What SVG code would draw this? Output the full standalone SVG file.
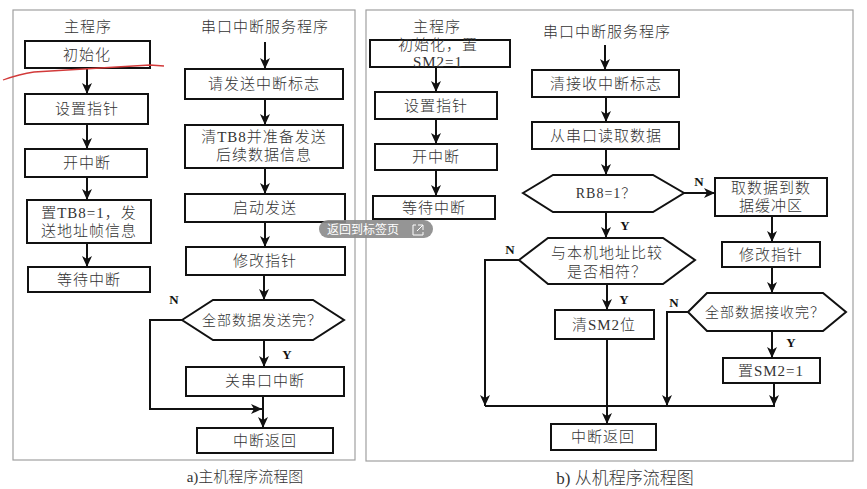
<svg xmlns="http://www.w3.org/2000/svg" width="867" height="489" viewBox="0 0 867 489">
<defs>
<marker id="ah" markerUnits="userSpaceOnUse" markerWidth="12" markerHeight="10" refX="11" refY="5" orient="auto">
<path d="M0,0 L11,5 L0,10 L3,5 z" fill="#111"/>
</marker>
<style>
.panel{fill:none;stroke:#a0a0a0;stroke-width:1.2}
.box{fill:#fff;stroke:#111;stroke-width:2}
.t{font-family:"Liberation Serif","Noto Sans CJK SC",serif;font-size:15px;font-weight:300;fill:#333;text-anchor:middle;letter-spacing:1px}
.th{font-family:"Liberation Serif","Noto Sans CJK SC",serif;font-size:14px;font-weight:300;fill:#333;text-anchor:middle;letter-spacing:1px}
.lab{font-family:"Liberation Serif","Noto Sans CJK SC",serif;font-size:13px;font-weight:bold;fill:#111;text-anchor:middle}
.cap{font-family:"Liberation Serif","Noto Sans CJK SC",serif;font-weight:300;fill:#333;text-anchor:middle}
.c{fill:none;stroke:#111;stroke-width:2}
.ca{fill:none;stroke:#111;stroke-width:2;marker-end:url(#ah)}
</style>
</defs>
<rect width="867" height="489" fill="#fff"/>

<!-- Panel a -->
<rect class="panel" x="13" y="10" width="342" height="450"/>
<text class="t" x="88" y="32">主程序</text>
<text class="t" x="265" y="32">串口中断服务程序</text>

<g id="a1"><rect class="box" x="25" y="41" width="125" height="27"/><text class="t" x="87" y="60">初始化</text></g>
<g id="a2"><rect class="box" x="25" y="94" width="123" height="30"/><text class="t" x="87" y="114">设置指针</text></g>
<g id="a3"><rect class="box" x="25" y="149" width="122" height="28"/><text class="t" x="87" y="168">开中断</text></g>
<g id="a4"><rect class="box" x="27" y="200" width="124" height="43"/><text class="t" x="89" y="218">置TB8=1，发</text><text class="t" x="89" y="236">送地址帧信息</text></g>
<g id="a5"><rect class="box" x="28" y="267" width="122" height="25"/><text class="t" x="89" y="285">等待中断</text></g>

<g id="r1"><rect class="box" x="185" y="69" width="158" height="30"/><text class="t" x="264" y="89">请发送中断标志</text></g>
<g id="r2"><rect class="box" x="185" y="125" width="158" height="43"/><text class="t" x="264" y="142">清TB8并准备发送</text><text class="t" x="264" y="160">后续数据信息</text></g>
<g id="r3"><rect class="box" x="185" y="194" width="160" height="28"/><text class="t" x="265" y="213">启动发送</text></g>
<g id="r4"><rect class="box" x="186" y="247" width="159" height="28"/><text class="t" x="265" y="266">修改指针</text></g>
<g id="d1"><polygon class="box" points="182,320 213,300 313,300 344,320 313,340 213,340"/><text class="th" x="262" y="325">全部数据发送完？</text></g>
<g id="r5"><rect class="box" x="186" y="367" width="158" height="29"/><text class="t" x="265" y="386">关串口中断</text></g>
<g id="r6"><rect class="box" x="197" y="428" width="136" height="25"/><text class="t" x="265" y="446">中断返回</text></g>

<text class="cap" x="245" y="482" font-size="15">a)主机程序流程图</text>

<!-- Panel b -->
<rect class="panel" x="366" y="10" width="487" height="451"/>
<text class="t" x="437" y="32">主程序</text>
<text class="t" x="607" y="37">串口中断服务程序</text>

<g id="b1"><rect class="box" x="370" y="40" width="140" height="27"/><text class="t" x="438" y="50">初始化，置</text><text class="t" x="438" y="67">SM2=1</text></g>
<g id="b2"><rect class="box" x="375" y="92" width="122" height="27"/><text class="t" x="436" y="111">设置指针</text></g>
<g id="b3"><rect class="box" x="375" y="144" width="122" height="26"/><text class="t" x="436" y="162">开中断</text></g>
<g id="b4"><rect class="box" x="373" y="196" width="122" height="23"/><text class="t" x="434" y="213">等待中断</text></g>

<g id="c1"><rect class="box" x="532" y="70" width="147" height="27"/><text class="t" x="606" y="89">清接收中断标志</text></g>
<g id="c2"><rect class="box" x="532" y="122" width="147" height="27"/><text class="t" x="606" y="141">从串口读取数据</text></g>
<g id="e1"><polygon class="box" points="523,193 553,175 653,175 684,193 653,212 553,212"/><text class="th" x="606" y="198">RB8=1？</text></g>
<g id="c3"><rect class="box" x="715" y="178" width="112" height="38"/><text class="t" x="771" y="193">取数据到数</text><text class="t" x="771" y="211">据缓冲区</text></g>
<g id="e2"><polygon class="box" points="519,260 548,238 663,238 695,260 663,284 548,284"/><text class="t" x="607" y="258">与本机地址比较</text><text class="t" x="607" y="277">是否相符？</text></g>
<g id="c4"><rect class="box" x="555" y="310" width="99" height="29"/><text class="t" x="604" y="330">清SM2位</text></g>
<g id="c5"><rect class="box" x="551" y="424" width="105" height="26"/><text class="t" x="603" y="442">中断返回</text></g>
<g id="c6"><rect class="box" x="722" y="242" width="98" height="25"/><text class="t" x="771" y="260">修改指针</text></g>
<g id="e3"><polygon class="box" points="688,312 707,293 823,293 846,312 823,331 707,331"/><text class="th" x="765" y="317">全部数据接收完？</text></g>
<g id="c7"><rect class="box" x="723" y="358" width="97" height="25"/><text class="t" x="771" y="376">置SM2=1</text></g>

<text class="cap" x="625" y="484" font-size="17">b) 从机程序流程图</text>

<!-- Connectors -->
<g id="connectors">
<line class="ca" x1="87" y1="68" x2="87" y2="94"/>
<line class="ca" x1="87" y1="124" x2="87" y2="149"/>
<line class="ca" x1="87" y1="177" x2="87" y2="200"/>
<line class="ca" x1="87" y1="243" x2="87" y2="267"/>
<line class="ca" x1="265" y1="42" x2="265" y2="69"/>
<line class="ca" x1="265" y1="99" x2="265" y2="125"/>
<line class="ca" x1="265" y1="168" x2="265" y2="194"/>
<line class="ca" x1="265" y1="222" x2="265" y2="247"/>
<line class="ca" x1="264" y1="275" x2="264" y2="300"/>
<line class="ca" x1="264" y1="340" x2="264" y2="367"/>
<line class="ca" x1="263" y1="396" x2="263" y2="428"/>
<polyline class="ca" points="182,320 150,320 150,409 262,409"/>
<text class="lab" x="174" y="304">N</text>
<text class="lab" x="287" y="359">Y</text>

<line class="ca" x1="436" y1="67" x2="436" y2="92"/>
<line class="ca" x1="436" y1="119" x2="436" y2="144"/>
<line class="ca" x1="436" y1="170" x2="436" y2="196"/>
<line class="ca" x1="605" y1="45" x2="605" y2="70"/>
<line class="ca" x1="606" y1="97" x2="606" y2="122"/>
<line class="ca" x1="606" y1="149" x2="606" y2="175"/>
<line class="ca" x1="684" y1="193" x2="715" y2="193"/>
<text class="lab" x="699" y="186">N</text>
<line class="ca" x1="606" y1="212" x2="606" y2="238"/>
<text class="lab" x="625" y="230">Y</text>
<polyline class="ca" points="519,260 485,260 485,406"/>
<text class="lab" x="510" y="254">N</text>
<line class="ca" x1="607" y1="284" x2="607" y2="310"/>
<text class="lab" x="624" y="304">Y</text>
<line class="ca" x1="607" y1="339" x2="607" y2="424"/>
<line class="c" x1="485" y1="406" x2="775" y2="406"/>
<line class="ca" x1="772" y1="216" x2="772" y2="242"/>
<line class="ca" x1="772" y1="267" x2="772" y2="293"/>
<polyline class="ca" points="688,312 667,312 667,406"/>
<text class="lab" x="674" y="307">N</text>
<line class="ca" x1="772" y1="331" x2="772" y2="358"/>
<text class="lab" x="791" y="347">Y</text>
<line class="ca" x1="774" y1="383" x2="774" y2="406"/>
</g>

<!-- red annotation stroke -->
<path d="M3,80 Q20,74 34,72 L150,65 L164,66" fill="none" stroke="#d23a3a" stroke-width="1.3"/>

<!-- overlay button -->
<g id="overlay">
<rect x="319" y="220" width="114" height="18" rx="9" fill="#8a8a8a" fill-opacity="0.9"/>
<text x="327" y="233.5" font-family="Noto Sans CJK SC, sans-serif" font-size="12" fill="#fff">返回到标签页</text>
<path d="M416,225 H413 V235 H423 V232 M418,225 H423 V230 M423,225 L417,231" fill="none" stroke="#fff" stroke-width="1"/>
</g>
</svg>
